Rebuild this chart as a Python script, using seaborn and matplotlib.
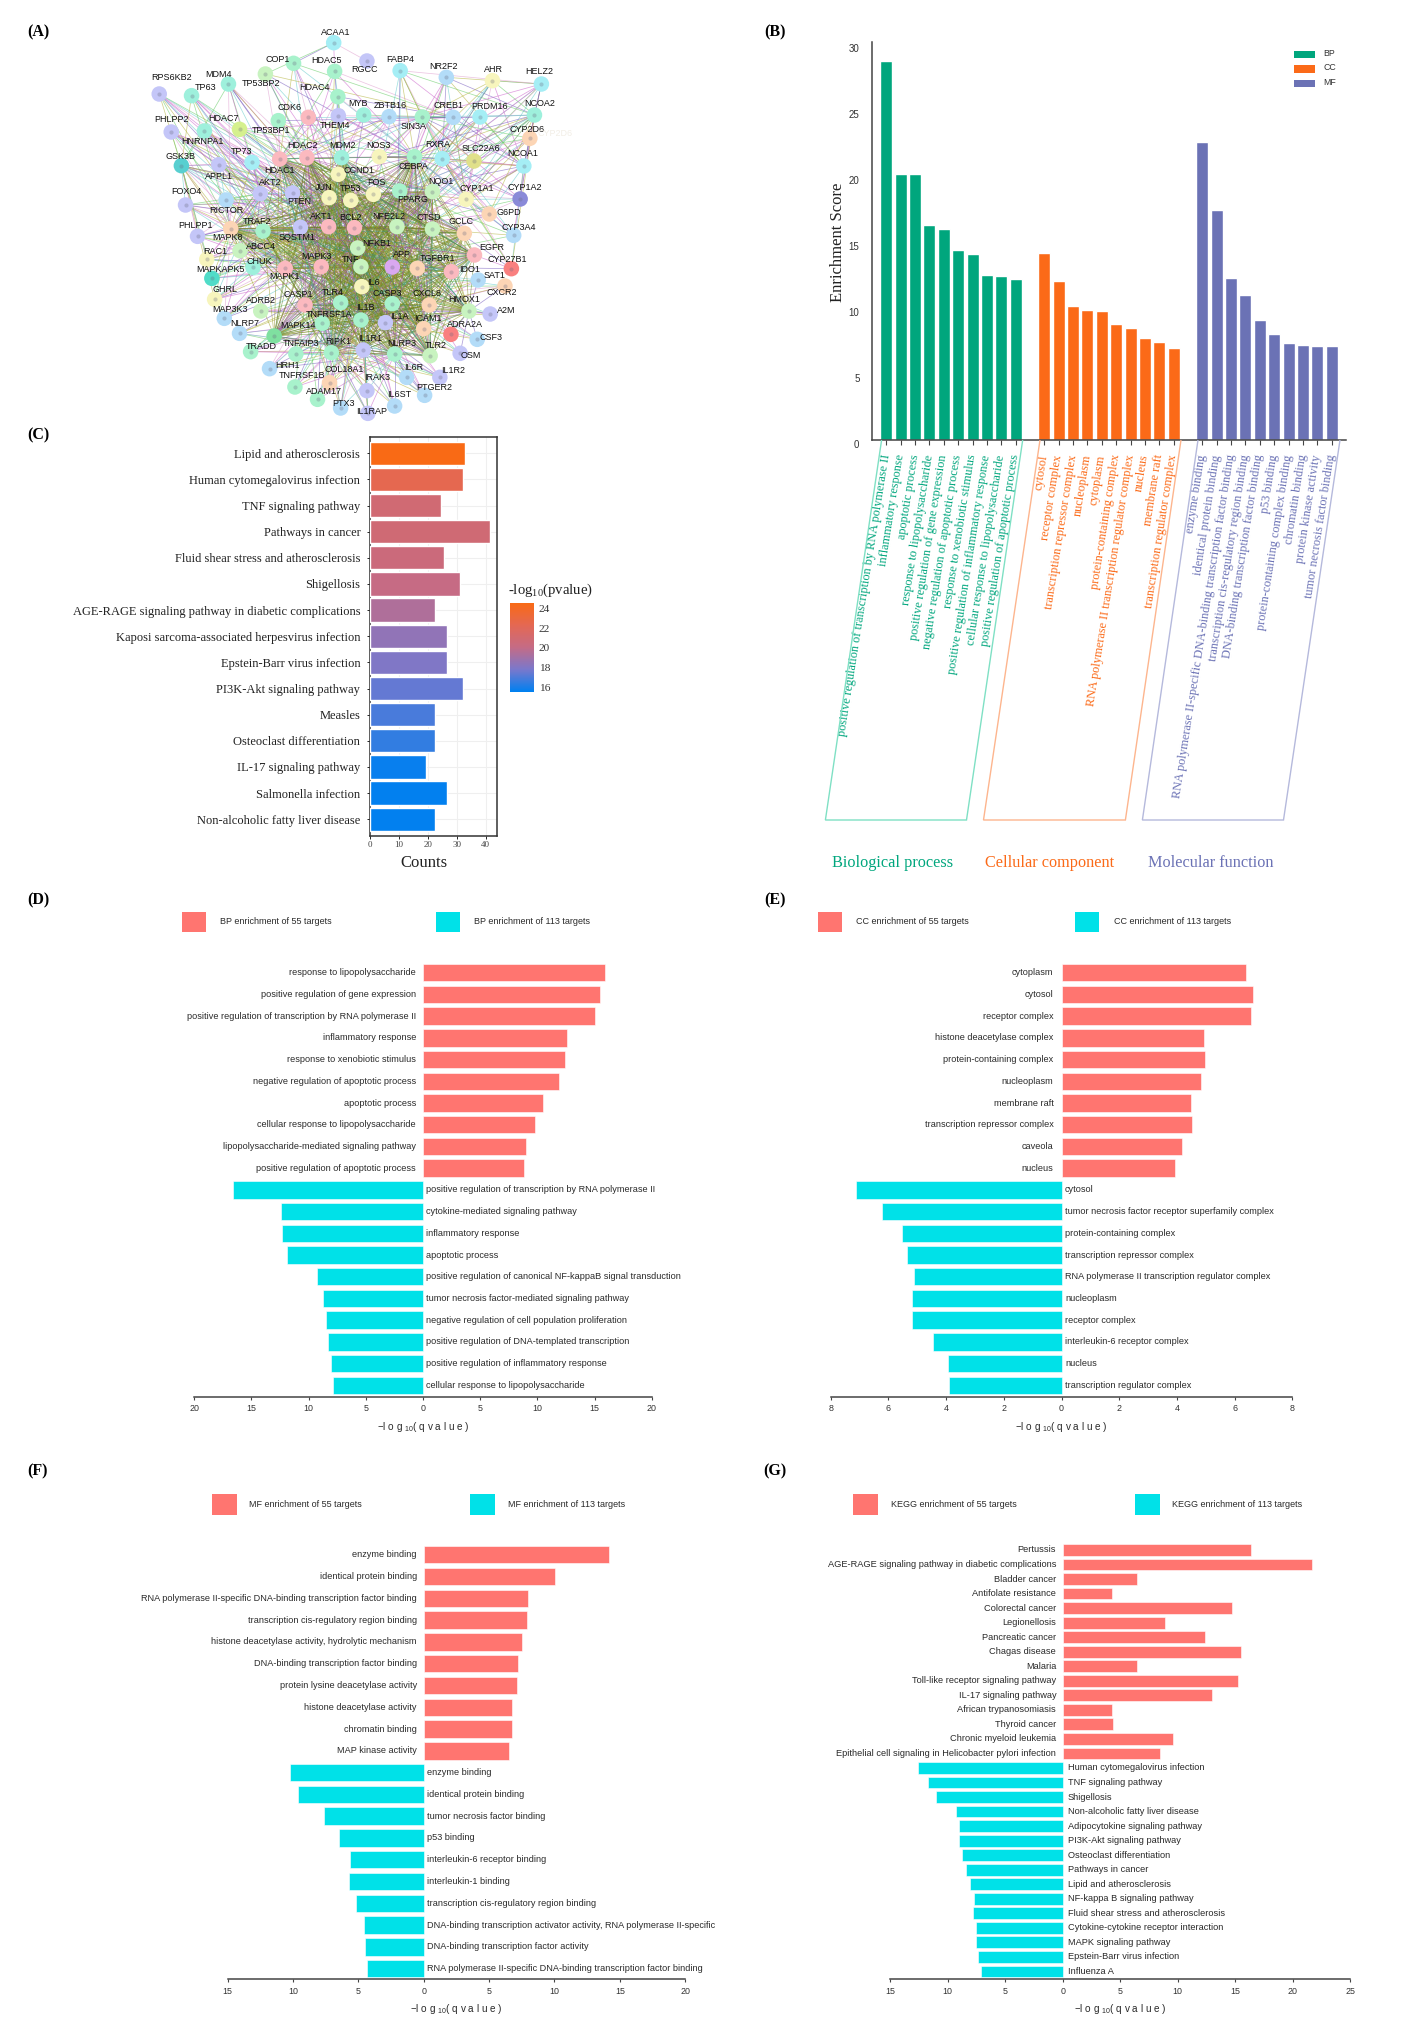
import matplotlib
matplotlib.use('Agg')
import matplotlib.pyplot as plt
import seaborn as sns
import numpy as np
import pandas as pd
from itertools import combinations
from matplotlib.collections import LineCollection
from matplotlib.colors import LinearSegmentedColormap, Normalize
from matplotlib.cm import ScalarMappable
from matplotlib.patches import Polygon, Rectangle
from matplotlib.transforms import ScaledTranslation

W, H = 1407, 2035
SERIF = 'Liberation Serif'
SANS = 'Liberation Sans'
RED = '#ff7570'
CYAN = '#00e1e8'
TEXT = '#2a2a2a'

# ---- panel A: nodes (A's own layout units)
node_names = [
    'ACAA1', 'COP1', 'TP53BP2', 'HDAC5', 'RGCC', 'FABP4', 'NR2F2', 'AHR', 'HELZ2', 'RPS6KB2',
    'MDM4', 'TP63', 'HDAC4', 'NCOA2', 'CDK6', 'TP53BP1', 'THEM4', 'MYB', 'ZBTB16', 'SIN3A',
    'CREB1', 'PRDM16', 'PHLPP2', 'HNRNPA1', 'HDAC7', 'CYP2D6', 'NCOA1', 'GSK3B', 'APPL1', 'TP73',
    'HDAC2', 'HDAC1', 'MDM2', 'NOS3', 'CEBPA', 'RXRA', 'SLC22A6', 'CCND1', 'AKT2', 'PTEN',
    'JUN', 'TP53', 'FOS', 'PPARG', 'NQO1', 'CYP1A1', 'CYP1A2', 'FOXO4', 'RICTOR', 'G6PD',
    'TRAF2', 'AKT1', 'BCL2', 'NFE2L2', 'CTSD', 'GCLC', 'CYP3A4', 'PHLPP1', 'MAPK8', 'SQSTM1',
    'NFKB1', 'ABCC4', 'RAC1', 'EGFR', 'CYP27B1', 'CHUK', 'MAPKAPK5', 'MAPK3', 'TNF', 'APP',
    'TGFBR1', 'MAPK1', 'IDO1', 'SAT1', 'CXCR2', 'IL6', 'GHRL', 'ADRB2', 'CASP1', 'TLR4',
    'CASP3', 'CXCL8', 'HMOX1', 'A2M', 'MAP3K3', 'IL1B', 'IL1A', 'TNFRSF1A', 'ICAM1', 'ADRA2A',
    'NLRP7', 'MAPK14', 'CSF3', 'TRADD', 'TNFAIP3', 'RIPK1', 'IL1R1', 'NLRP3', 'TLR2', 'OSM',
    'HRH1', 'COL18A1', 'IL6R', 'IL1R2', 'TNFRSF1B', 'IRAK3', 'PTGER2', 'ADAM17', 'PTX3', 'IL6ST',
    'IL1RAP',
]
node_x = [
    723, 636, 575, 725, 795, 867, 967, 1067, 1173, 345,
    495, 415, 732, 1158, 603, 668, 733, 788, 843, 915,
    982, 1040, 371, 443, 519, 1148, 1135, 393, 474, 546,
    606, 665, 740, 822, 898, 958, 1027, 733, 564, 634,
    713, 760, 809, 866, 937, 1010, 1127, 402, 490, 1060,
    570, 712, 768, 860, 937, 1006, 1113, 428, 500, 651,
    775, 520, 448, 1028, 1108, 548, 459, 696, 782, 850,
    904, 618, 978, 1036, 1094, 784, 465, 565, 661, 738,
    850, 930, 1016, 1062, 486, 782, 835, 698, 918, 977,
    519, 594, 1034, 543, 641, 718, 787, 855, 932, 997,
    584, 714, 881, 953, 639, 795, 920, 688, 738, 855,
    797,
]
node_y = [
    128, 190, 222, 214, 183, 212, 232, 242, 252, 282,
    252, 287, 290, 345, 362, 352, 347, 345, 350, 351,
    352, 351, 396, 393, 388, 415, 498, 497, 494, 487,
    477, 473, 473, 470, 470, 476, 483, 523, 581, 579,
    593, 601, 583, 573, 575, 598, 597, 615, 600, 642,
    693, 680, 683, 680, 687, 700, 706, 709, 686, 682,
    744, 752, 778, 765, 806, 802, 835, 800, 800, 801,
    805, 805, 815, 840, 858, 860, 898, 933, 915, 908,
    911, 915, 933, 942, 955, 960, 968, 970, 986, 1003,
    1000, 1008, 1018, 1055, 1062, 1058, 1050, 1062, 1067, 1060,
    1106, 1148, 1132, 1132, 1161, 1172, 1186, 1198, 1224, 1218,
    1240,
]
label_x = [
    728, 602, 565, 708, 790, 867, 960, 1070, 1169, 372,
    473, 445, 682, 1170, 628, 587, 725, 775, 846, 895,
    972, 1060, 371, 438, 485, 1142, 1132, 390, 475, 523,
    655, 605, 741, 819, 895, 948, 1042, 778, 585, 648,
    702, 760, 816, 895, 955, 1033, 1136, 403, 490, 1103,
    557, 695, 760, 842, 928, 998, 1125, 424, 492, 643,
    817, 565, 467, 1066, 1098, 562, 477, 686, 760, 870,
    947, 617, 1017, 1072, 1087, 810, 488, 566, 646, 722,
    838, 925, 1005, 1097, 499, 792, 865, 712, 926, 1007,
    530, 645, 1064, 567, 652, 733, 802, 870, 945, 1020,
    622, 745, 897, 981, 655, 817, 941, 702, 744, 865,
    805,
]
label_y = [
    97, 177, 251, 181, 209, 179, 199, 210, 214, 233,
    224, 264, 262, 310, 322, 392, 375, 311, 315, 380,
    316, 320, 360, 423, 355, 390, 462, 469, 529, 456,
    438, 511, 437, 436, 500, 433, 446, 512, 548, 604,
    564, 566, 548, 600, 543, 566, 561, 575, 631, 638,
    663, 650, 654, 650, 653, 666, 682, 675, 711, 711,
    730, 740, 755, 742, 777, 785, 807, 769, 778, 764,
    775, 830, 808, 828, 878, 848, 870, 902, 884, 877,
    881, 880, 897, 932, 929, 923, 950, 944, 955, 973,
    972, 977, 1012, 1040, 1032, 1024, 1016, 1030, 1037, 1066,
    1095, 1110, 1104, 1112, 1126, 1134, 1164, 1176, 1209, 1183,
    1236,
]
node_tints = ''.join(['cgnglcbycl', 'ttgtgpltbg', 'bcltvecDlc', 'pptygcoyll', 'yyygnyVlbe', 'gppnneblel',
                      'nnypRtTpni', 'eppbeyynpg', 'genlbglgeR', 'bmbggglgnl', 'beblglbgbb', 'l'])
tint_colors = {
    'c': '#a5eef5', 'g': '#a8f2cc', 't': '#9ef0dc', 'l': '#c4c6f8', 'b': '#b3dcf8',
    'y': '#f7f5bd', 'p': '#fbb9bf', 'e': '#fcd5b5', 'n': '#c8f3c0', 'v': '#d5f08e',
    'o': '#e0e08a', 'D': '#58cfd0', 'V': '#8a8ad8', 'R': '#f98080', 'm': '#7fe0a0',
    'i': '#d9a8f0', 'T': '#50dcc8',
}

# edges are far too dense to read one by one, so they are listed as gene groups
core_genes = ['JUN', 'TP53', 'FOS', 'AKT1', 'BCL2', 'NFE2L2', 'TNF', 'IL6', 'IL1B', 'CASP3', 'CXCL8',
              'TLR4', 'MAPK3', 'MAPK1', 'APP', 'NFKB1', 'PPARG', 'HMOX1', 'ICAM1', 'CASP1', 'MAPK8',
              'MAPK14', 'IL1A', 'TGFBR1', 'NQO1', 'CTSD', 'GCLC', 'TNFRSF1A', 'RIPK1', 'IL1R1', 'NLRP3',
              'TLR2', 'TRAF2', 'SQSTM1', 'CCND1', 'MDM2', 'CEBPA', 'EGFR', 'IDO1', 'HDAC1', 'HDAC2']
edge_groups = [
    (['RPS6KB2', 'PHLPP2', 'GSK3B', 'FOXO4', 'PHLPP1', 'APPL1', 'RICTOR', 'AKT2', 'PTEN', 'RAC1', 'MAPKAPK5',
      'GHRL', 'MAP3K3', 'CHUK', 'ABCC4', 'HNRNPA1', 'TP73', 'TP63', 'MDM4'],
     ['AKT1', 'TP53', 'JUN', 'MAPK1', 'MAPK3', 'BCL2', 'TNF', 'MAPK8', 'AKT2', 'GSK3B']),
    (['COP1', 'TP53BP1', 'TP53BP2', 'HDAC4', 'HDAC5', 'HDAC7', 'MYB', 'ZBTB16', 'SIN3A', 'CDK6', 'THEM4'],
     ['HDAC1', 'HDAC2', 'TP53', 'JUN', 'MDM2', 'CREB1', 'CEBPA']),
    (['FABP4', 'NR2F2', 'AHR', 'HELZ2', 'NCOA2', 'NCOA1', 'CREB1', 'PRDM16', 'CYP2D6', 'CYP1A1', 'CYP1A2',
      'SLC22A6', 'NOS3', 'RXRA', 'G6PD', 'CYP3A4', 'CYP27B1'],
     ['RXRA', 'PPARG', 'CEBPA', 'NFE2L2', 'CYP1A1', 'NCOA1', 'NCOA2', 'TNF', 'SIN3A']),
    (['SAT1', 'CXCR2', 'A2M', 'ADRA2A', 'CSF3', 'OSM', 'ADRB2'],
     ['CXCL8', 'IL6', 'TNF', 'IL1B', 'HMOX1', 'TLR4']),
    (['TRADD', 'TNFAIP3', 'HRH1', 'COL18A1', 'IL6R', 'IL1R2', 'TNFRSF1B', 'IRAK3', 'PTGER2', 'ADAM17', 'PTX3',
      'IL6ST', 'IL1RAP', 'NLRP7'],
     ['IL1B', 'IL6', 'TNF', 'IL1R1', 'TNFRSF1A', 'RIPK1', 'NLRP3', 'CASP1']),
    (['ACAA1'], ['COP1', 'RGCC', 'HDAC5', 'TP53BP2']),
    (['HELZ2'], ['AHR', 'NR2F2', 'NCOA2', 'FABP4']),
]
core_edge_colors = ['#8a8a20', '#6f8f2a', '#a05aa0', '#3f9a7a', '#9a9a22', '#5f7f20']
outer_edge_colors = ['#cc66cc', '#66cc66', '#66cccc', '#b5b540', '#7a5fc0', '#e0a0d0']

# ---- panel B
bp_terms = ['positive regulation of transcription by RNA polymerase II', 'inflammatory response', 'apoptotic process',
            'response to lipopolysaccharide', 'positive regulation of gene expression',
            'negative regulation of apoptotic process', 'response to xenobiotic stimulus',
            'positive regulation of inflammatory response', 'cellular response to lipopolysaccharide',
            'positive regulation of apoptotic process']
bp_scores = [28.73, 20.2, 20.17, 16.28, 15.97, 14.4, 14.1, 12.5, 12.47, 12.2]
cc_terms = ['cytosol', 'receptor complex', 'transcription repressor complex', 'nucleoplasm', 'cytoplasm',
            'protein-containing complex', 'RNA polymerase II transcription regulator complex', 'nucleus',
            'membrane raft', 'transcription regulator complex']
cc_scores = [14.2, 12.07, 10.15, 9.85, 9.78, 8.77, 8.51, 7.76, 7.46, 6.95]
mf_terms = ['enzyme binding', 'identical protein binding',
            'RNA polymerase II-specific DNA-binding transcription factor binding',
            'transcription cis-regulatory region binding', 'DNA-binding transcription factor binding', 'p53 binding',
            'protein-containing complex binding', 'chromatin binding', 'protein kinase activity',
            'tumor necrosis factor binding']
mf_scores = [22.6, 17.45, 12.27, 10.98, 9.06, 8.07, 7.37, 7.19, 7.16, 7.09]

# ---- panel C
kegg_terms = ['Lipid and atherosclerosis', 'Human cytomegalovirus infection', 'TNF signaling pathway',
              'Pathways in cancer', 'Fluid shear stress and atherosclerosis', 'Shigellosis',
              'AGE-RAGE signaling pathway in diabetic complications', 'Kaposi sarcoma-associated herpesvirus infection',
              'Epstein-Barr virus infection', 'PI3K-Akt signaling pathway', 'Measles', 'Osteoclast differentiation',
              'IL-17 signaling pathway', 'Salmonella infection', 'Non-alcoholic fatty liver disease']
kegg_counts = [33, 32, 24.5, 41.6, 25.6, 31, 22.5, 26.7, 26.7, 32, 22.5, 22.5, 19.2, 26.7, 22.5]
kegg_logp = [24.5, 22.4, 20.9, 20.8, 20.5, 20.1, 19.4, 18.5, 18.0, 17.4, 16.9, 16.5, 15.7, 15.6, 15.6]

# ---- panel D
d_top_terms = ['response to lipopolysaccharide', 'positive regulation of gene expression',
               'positive regulation of transcription by RNA polymerase II', 'inflammatory response',
               'response to xenobiotic stimulus', 'negative regulation of apoptotic process', 'apoptotic process',
               'cellular response to lipopolysaccharide', 'lipopolysaccharide-mediated signaling pathway',
               'positive regulation of apoptotic process']
d_top_vals = [15.9, 15.5, 15.06, 12.6, 12.4, 11.86, 10.45, 9.83, 9.0, 8.8]
d_bot_terms = ['positive regulation of transcription by RNA polymerase II', 'cytokine-mediated signaling pathway',
               'inflammatory response', 'apoptotic process',
               'positive regulation of canonical NF-kappaB signal transduction',
               'tumor necrosis factor-mediated signaling pathway', 'negative regulation of cell population proliferation',
               'positive regulation of DNA-templated transcription', 'positive regulation of inflammatory response',
               'cellular response to lipopolysaccharide']
d_bot_vals = [16.6, 12.37, 12.33, 11.9, 9.25, 8.7, 8.5, 8.3, 8.08, 7.9]

# ---- panel E
e_top_terms = ['cytoplasm', 'cytosol', 'receptor complex', 'histone deacetylase complex', 'protein-containing complex',
               'nucleoplasm', 'membrane raft', 'transcription repressor complex', 'caveola', 'nucleus']
e_top_vals = [6.4, 6.65, 6.56, 4.94, 4.98, 4.84, 4.48, 4.51, 4.17, 3.92]
e_bot_terms = ['cytosol', 'tumor necrosis factor receptor superfamily complex', 'protein-containing complex',
               'transcription repressor complex', 'RNA polymerase II transcription regulator complex', 'nucleoplasm',
               'receptor complex', 'interleukin-6 receptor complex', 'nucleus', 'transcription regulator complex']
e_bot_vals = [7.14, 6.24, 5.53, 5.35, 5.11, 5.17, 5.17, 4.45, 3.93, 3.9]

# ---- panel F
f_top_terms = ['enzyme binding', 'identical protein binding',
               'RNA polymerase II-specific DNA-binding transcription factor binding',
               'transcription cis-regulatory region binding', 'histone deacetylase activity, hydrolytic mechanism',
               'DNA-binding transcription factor binding', 'protein lysine deacetylase activity',
               'histone deacetylase activity', 'chromatin binding', 'MAP kinase activity']
f_top_vals = [14.15, 10.07, 8.01, 7.9, 7.5, 7.2, 7.17, 6.73, 6.76, 6.54]
f_bot_terms = ['enzyme binding', 'identical protein binding', 'tumor necrosis factor binding', 'p53 binding',
               'interleukin-6 receptor binding', 'interleukin-1 binding', 'transcription cis-regulatory region binding',
               'DNA-binding transcription activator activity, RNA polymerase II-specific',
               'DNA-binding transcription factor activity',
               'RNA polymerase II-specific DNA-binding transcription factor binding']
f_bot_vals = [10.22, 9.63, 7.61, 6.47, 5.63, 5.7, 5.18, 4.6, 4.49, 4.34]

# ---- panel G
g_top_terms = ['Pertussis', 'AGE-RAGE signaling pathway in diabetic complications', 'Bladder cancer',
               'Antifolate resistance', 'Colorectal cancer', 'Legionellosis', 'Pancreatic cancer', 'Chagas disease',
               'Malaria', 'Toll-like receptor signaling pathway', 'IL-17 signaling pathway', 'African trypanosomiasis',
               'Thyroid cancer', 'Chronic myeloid leukemia', 'Epithelial cell signaling in Helicobacter pylori infection']
g_top_vals = [16.34, 21.68, 6.48, 4.25, 14.69, 8.9, 12.34, 15.46, 6.45, 15.2, 13.0, 4.32, 4.4, 9.6, 8.5]
g_bot_terms = ['Human cytomegalovirus infection', 'TNF signaling pathway', 'Shigellosis',
               'Non-alcoholic fatty liver disease', 'Adipocytokine signaling pathway', 'PI3K-Akt signaling pathway',
               'Osteoclast differentiation', 'Pathways in cancer', 'Lipid and atherosclerosis',
               'NF-kappa B signaling pathway', 'Fluid shear stress and atherosclerosis',
               'Cytokine-cytokine receptor interaction', 'MAPK signaling pathway', 'Epstein-Barr virus infection',
               'Influenza A']
g_bot_vals = [12.53, 11.72, 11.03, 9.23, 9.01, 9.01, 8.75, 8.42, 8.02, 7.73, 7.77, 7.51, 7.51, 7.36, 7.07]

sns.set_theme(style='white', font=SANS)
plt.rcParams['mathtext.default'] = 'regular'
plt.rcParams['axes.unicode_minus'] = True

fig = plt.figure(figsize=(W / 100, H / 100), dpi=100, facecolor='white')


def px_axes(left, top, right, bottom):
    return fig.add_axes([left / W, 1 - bottom / H, (right - left) / W, (bottom - top) / H])


# overlay in picture pixels for legends, panel letters and brackets
overlay = fig.add_axes([0, 0, 1, 1], zorder=10)
overlay.set_xlim(0, W)
overlay.set_ylim(H, 0)
overlay.axis('off')
overlay.patch.set_alpha(0)

for letter, lx, ly in [('(A)', 38, 32), ('(B)', 775, 32), ('(C)', 38, 435), ('(D)', 38, 900),
                       ('(E)', 775, 900), ('(F)', 38, 1471), ('(G)', 775, 1471)]:
    overlay.text(lx, ly, letter, family=SERIF, weight='bold', fontsize=11.5, ha='center', va='center', color='black')


def draw_network():
    ax = px_axes(0, 0, 720, 440)
    pos = {n: (x, y) for n, x, y in zip(node_names, node_x, node_y)}

    core_segs = [(pos[a], pos[b]) for a, b in combinations(core_genes, 2)]
    outer_segs = []
    for genes, hubs in edge_groups:
        for g in genes:
            for h in hubs:
                if g != h:
                    outer_segs.append((pos[g], pos[h]))
    outer_cols = [outer_edge_colors[i % len(outer_edge_colors)] for i in range(len(outer_segs))]
    core_cols = [core_edge_colors[i % len(core_edge_colors)] for i in range(len(core_segs))]
    ax.add_collection(LineCollection(outer_segs, colors=outer_cols, linewidths=0.55, alpha=0.6, zorder=1))
    ax.add_collection(LineCollection(core_segs, colors=core_cols, linewidths=0.5, alpha=0.6, zorder=2))

    df = pd.DataFrame({'x': node_x, 'y': node_y, 'name': node_names})
    cols = [tint_colors[t] for t in node_tints]
    sns.scatterplot(data=df, x='x', y='y', hue='name', palette=dict(zip(node_names, cols)), s=125,
                    linewidth=0, legend=False, ax=ax, zorder=3)
    ax.scatter(node_x, node_y, s=9, c='#6a6a80', alpha=0.3, linewidths=0, zorder=4)
    ax.set_xlim(0, 1560)
    ax.set_ylim(1320, 0)
    ax.axis('off')
    for n, lx, ly in zip(node_names, label_x, label_y):
        ax.text(lx, ly, n, fontsize=6.5, color='#111111', ha='center', va='center', zorder=5)
    ax.text(1203, 401, 'CYP2D6', fontsize=6.5, color='#f2eee6', ha='center', va='center', zorder=5)


def draw_enrichment():
    ax = px_axes(872, 42.3, 1346, 440)
    terms, scores, groups, term_cols = [], [], [], []
    slots = []
    group_cols = {'BP': '#00a67d', 'CC': '#fb6a18', 'MF': '#6b72b5'}
    slot = 0
    for g, t, s in [('BP', bp_terms, bp_scores), ('CC', cc_terms, cc_scores), ('MF', mf_terms, mf_scores)]:
        for tt, ss in zip(t, s):
            terms.append(tt)
            scores.append(ss)
            groups.append(g)
            slots.append(slot)
            term_cols.append(group_cols[g])
            slot += 1
        slot += 1
    df = pd.DataFrame({'slot': slots, 'score': scores, 'group': groups})
    sns.barplot(data=df, x='slot', y='score', hue='group', palette=group_cols, dodge=False, width=0.83, saturation=1,
                native_scale=True, legend=False, ax=ax)
    ax.set_xlim(-1, 32)
    ax.set_ylim(0, 30.15)
    ax.set_xlabel('')
    ax.set_ylabel('')
    ax.set_yticks([0, 5, 10, 15, 20, 25, 30])
    ax.tick_params(axis='y', left=False, labelsize=7, labelcolor='#333333', pad=3)
    shift = ScaledTranslation(0, -3 / 72, fig.dpi_scale_trans)
    for lab in ax.get_yticklabels():
        lab.set_transform(lab.get_transform() + shift)
    ax.set_xticks(slots)
    ax.set_xticklabels(terms, rotation=81, ha='right', va='center', rotation_mode='anchor', family=SERIF, fontsize=8.8)
    for lab, c in zip(ax.get_xticklabels(), term_cols):
        lab.set_color(c)
    ax.tick_params(axis='x', bottom=True, length=3.6, width=0.8, color='#444444', pad=7)
    sns.despine(ax=ax)
    for s in ['left', 'bottom']:
        ax.spines[s].set_color('#444444')
        ax.spines[s].set_linewidth(1.1)

    overlay.text(838, 242, 'Enrichment Score', family=SERIF, fontsize=12, rotation=90, ha='center', va='center',
                 color='#222222')
    for (g, c), ly in zip(group_cols.items(), [54.5, 69, 83.5]):
        overlay.add_patch(Rectangle((1294, ly - 3.7), 21, 7.4, color=c, lw=0))
        overlay.text(1323, ly - 1.2, g, fontsize=6.3, ha='left', va='center', color='#333333')

    # brackets linking the rotated terms to the group names
    brackets = [((826.4, 967.5, 1024.7, 883.6), '#00a67d', 'Biological process', 832.6, '#7fe0c4'),
                ((984.5, 1126.4, 1183, 1042), '#fb6a18', 'Cellular component', 986, '#fdb58e'),
                ((1143.4, 1284.5, 1342, 1200), '#6b72b5', 'Molecular function', 1148.5, '#b5b9dc')]
    for (x0, x1, x2, x3), c, name, tx, edge in brackets:
        overlay.add_patch(Polygon([(x3 - 2, 440), (x0 - 1, 820), (x1 - 1, 820), (x2 - 2, 440)], closed=False, fill=False,
                                  edgecolor=edge, lw=1))
        overlay.text(tx - 1, 862.7, name, family=SERIF, fontsize=11.7, color=c, ha='left', va='center')


def draw_kegg():
    ax = px_axes(370, 437.3, 497.3, 836)
    cmap = LinearSegmentedColormap.from_list('logp', ['#0080f0', '#7a78cc', '#c56b85', '#e46853', '#f96a14'])
    norm = Normalize(15.55, 24.57)
    palette = {t: cmap(norm(p)) for t, p in zip(kegg_terms, kegg_logp)}
    df = pd.DataFrame({'term': kegg_terms, 'count': kegg_counts})
    sns.barplot(data=df, y='term', x='count', hue='term', palette=palette, dodge=False, width=0.89, saturation=1,
                legend=False, ax=ax, zorder=3)
    ax.set_xlim(0, 44)
    ax.set_ylim(14.64, -0.61)
    ax.set_xlabel('')
    ax.set_ylabel('')
    ax.set_xticks([0, 10, 20, 30, 40])
    ax.grid(True, color='#efefef', linewidth=0.8)
    ax.set_axisbelow(True)
    ax.tick_params(axis='x', bottom=True, length=2, width=0.7, labelsize=6.5, pad=1.5, labelcolor='#444444')
    ax.tick_params(axis='y', left=True, length=2, width=0.7, labelsize=9, pad=5, labelcolor='#222222')
    for lab in ax.get_xticklabels() + ax.get_yticklabels():
        lab.set_family(SERIF)
    for s in ax.spines.values():
        s.set_visible(True)
        s.set_color('#333333')
        s.set_linewidth(1.1)
    overlay.text(424, 862.7, 'Counts', family=SERIF, fontsize=12, ha='center', va='center', color='#222222')

    cax = px_axes(510, 602.7, 534, 691.7)
    cb = fig.colorbar(ScalarMappable(norm=norm, cmap=cmap), cax=cax, ticks=[16, 18, 20, 22, 24])
    cb.outline.set_visible(False)
    cb.ax.tick_params(length=0, labelsize=8.2, pad=3.5, labelcolor='#333333')
    for lab in cb.ax.get_yticklabels():
        lab.set_family(SERIF)
    overlay.text(508, 590.7, '-log$_{10}$(pvalue)', family=SERIF, fontsize=10.6, ha='left', va='center', color='#222222')


def draw_butterfly(rect, top_terms, top_vals, bot_terms, bot_vals, xlim, ticks, ylim, height, top_legend, bot_legend,
                   legend_rows, label_gap=(7, 3.4), fontsize=6.6):
    ax = px_axes(*rect)
    n = len(top_terms) + len(bot_terms)
    signed = list(top_vals) + [-v for v in bot_vals]
    groups = ['top'] * len(top_terms) + ['bottom'] * len(bot_terms)
    df = pd.DataFrame({'row': np.arange(n), 'value': signed, 'group': groups})
    sns.barplot(data=df, y='row', x='value', hue='group', orient='h', palette={'top': RED, 'bottom': CYAN}, dodge=False,
                width=height, saturation=1, legend=False, edgecolor='white', linewidth=0.4, ax=ax)
    ax.set_xlim(*xlim)
    ax.set_ylim(*ylim)
    ax.set_xlabel('')
    ax.set_ylabel('')
    ax.set_yticks([])
    ax.set_xticks(ticks)
    ax.set_xticklabels([str(abs(t)) for t in ticks])
    ax.tick_params(axis='x', bottom=True, length=2.5, width=0.8, color='#444444', labelsize=6.4, labelcolor='#333333',
                   pad=3)
    sns.despine(ax=ax, left=True)
    ax.spines['bottom'].set_color('#444444')
    ax.spines['bottom'].set_linewidth(1.1)
    for i, t in enumerate(top_terms):
        ax.annotate(t, (0, i), xytext=(-label_gap[0] * 0.72, 0), textcoords='offset points', ha='right', va='center',
                    fontsize=fontsize, color=TEXT)
    for i, t in enumerate(bot_terms):
        ax.annotate(t, (0, i + len(top_terms)), xytext=(label_gap[1] * 0.72, 0), textcoords='offset points', ha='left',
                    va='center', fontsize=fontsize, color=TEXT)

    center = (rect[0] + rect[2]) / 2
    overlay.text(center, rect[3] + 30, '\u2212l o g $_{10}$( q v a l u e )', fontsize=7.2, ha='center', va='center',
                 color=TEXT)
    y0, y1, x_a, text_a, x_b, text_b = legend_rows
    side = y1 - y0
    overlay.add_patch(Rectangle((x_a, y0), side * 1.2, side, color=RED, lw=0))
    overlay.text(text_a, (y0 + y1) / 2, top_legend, fontsize=6.5, ha='left', va='center', color=TEXT)
    overlay.add_patch(Rectangle((x_b, y0), side * 1.2, side, color=CYAN, lw=0))
    overlay.text(text_b, (y0 + y1) / 2, bot_legend, fontsize=6.5, ha='left', va='center', color=TEXT)


draw_network()
draw_enrichment()
draw_kegg()
draw_butterfly((194.2, 961.9, 651.8, 1396.7), d_top_terms, d_top_vals, d_bot_terms, d_bot_vals, (-20, 20),
               [-20, -15, -10, -5, 0, 5, 10, 15, 20], (19.525, -0.5), 0.8,
               'BP enrichment of 55 targets', 'BP enrichment of 113 targets', (912, 932, 182.3, 220, 436, 474))
draw_butterfly((830.8, 961.9, 1292.2, 1396.7), e_top_terms, e_top_vals, e_bot_terms, e_bot_vals, (-8, 8),
               [-8, -6, -4, -2, 0, 2, 4, 6, 8], (19.525, -0.5), 0.8,
               'CC enrichment of 55 targets', 'CC enrichment of 113 targets', (912, 932, 817.5, 855.6, 1075, 1113.5),
               label_gap=(8, 3.6))
draw_butterfly((227.5, 1543.8, 685.2, 1979.3), f_top_terms, f_top_vals, f_bot_terms, f_bot_vals, (-15, 20),
               [-15, -10, -5, 0, 5, 10, 15, 20], (19.486, -0.5), 0.8,
               'MF enrichment of 55 targets', 'MF enrichment of 113 targets', (1494, 1514.7, 211.7, 249.3, 469.7, 507.7),
               label_gap=(6.7, 3.8))
draw_butterfly((890, 1542.7, 1350.4, 1979.3), g_top_terms, g_top_vals, g_bot_terms, g_bot_vals, (-15, 25),
               [-15, -10, -5, 0, 5, 10, 15, 20, 25], (29.54, -0.5), 0.81,
               'KEGG enrichment of 55 targets', 'KEGG enrichment of 113 targets',
               (1494, 1515, 853, 891, 1134.5, 1172.5), label_gap=(6.5, 5), fontsize=6.7)

plt.savefig('out.png', dpi=100)
